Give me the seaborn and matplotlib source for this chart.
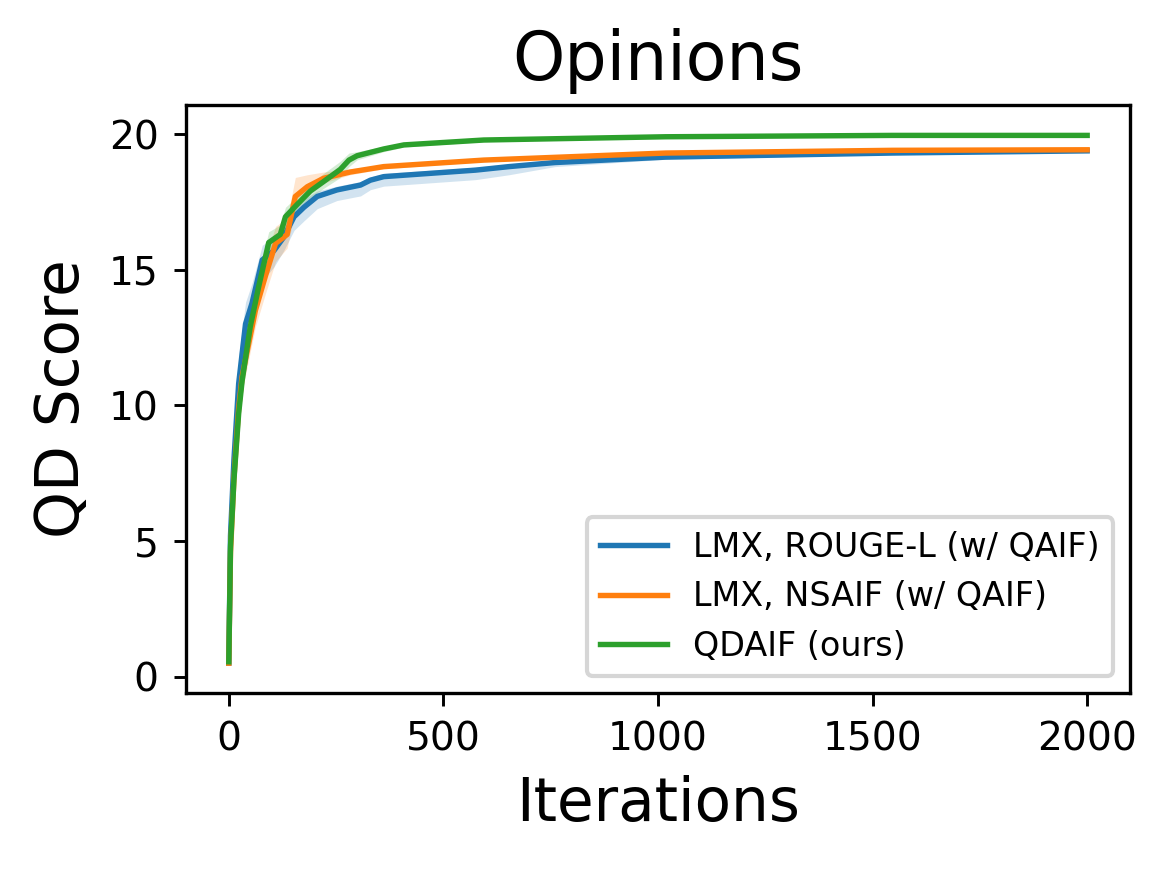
import matplotlib
matplotlib.use("Agg")
import matplotlib.pyplot as plt
import numpy as np
import pandas as pd
import seaborn as sns

# values
rouge_iter = [0, 4, 12, 23, 39, 54, 78, 105, 128, 152, 175, 206, 252, 307, 330, 361, 575, 653, 760, 1018, 1546, 2000]
rouge_mean = [0.5, 5.2, 8.0, 10.8, 13.0, 13.76, 15.36, 15.7, 16.2, 16.95, 17.3, 17.7, 17.94, 18.12, 18.3, 18.43, 18.67, 18.8, 18.95, 19.15, 19.3, 19.38]
rouge_lo = [0.5, 4.8, 7.2, 9.8, 12.0, 12.8, 14.6, 15.1, 15.7, 16.45, 16.8, 17.25, 17.55, 17.72, 17.95, 18.08, 18.32, 18.5, 18.8, 19.07, 19.25, 19.33]
rouge_hi = [0.5, 5.6, 8.8, 11.8, 13.8, 14.5, 15.9, 16.2, 16.6, 17.3, 17.6, 17.9, 18.08, 18.25, 18.42, 18.55, 18.78, 18.9, 19.02, 19.2, 19.34, 19.42]

nsaif_iter = [0, 4, 12, 23, 31, 62, 85, 109, 136, 155, 183, 221, 283, 361, 594, 1018, 1546, 2000]
nsaif_mean = [0.5, 4.6, 7.3, 9.9, 11.06, 13.5, 14.75, 15.97, 16.3, 17.7, 18.06, 18.37, 18.6, 18.8, 19.04, 19.3, 19.4, 19.42]
nsaif_lo = [0.5, 4.3, 6.8, 9.3, 10.5, 12.9, 14.1, 15.3, 15.8, 17.2, 17.75, 18.2, 18.5, 18.72, 18.98, 19.25, 19.36, 19.38]
nsaif_hi = [0.5, 4.9, 7.8, 10.5, 11.6, 14.1, 15.4, 16.6, 16.9, 18.4, 18.5, 18.6, 18.72, 18.88, 19.1, 19.35, 19.45, 19.46]

qdaif_iter = [0, 4, 12, 23, 31, 50, 70, 93, 120, 132, 159, 190, 221, 260, 280, 299, 361, 408, 594, 1018, 1546, 2000]
qdaif_mean = [0.55, 4.8, 7.25, 9.7, 10.9, 12.9, 14.4, 16.0, 16.3, 16.95, 17.4, 17.9, 18.25, 18.7, 19.04, 19.2, 19.45, 19.6, 19.78, 19.9, 19.95, 19.95]
qdaif_lo = [0.55, 4.5, 6.8, 9.2, 10.4, 12.4, 13.9, 15.6, 15.95, 16.6, 17.15, 17.65, 18.0, 18.4, 18.8, 19.05, 19.35, 19.52, 19.72, 19.85, 19.9, 19.9]
qdaif_hi = [0.55, 5.1, 7.7, 10.2, 11.4, 13.4, 14.9, 16.4, 16.65, 17.3, 17.7, 18.15, 18.55, 19.0, 19.3, 19.35, 19.55, 19.68, 19.84, 19.95, 20.0, 20.0]

labels = ["LMX, ROUGE-L (w/ QAIF)", "LMX, NSAIF (w/ QAIF)", "QDAIF (ours)"]

frames = []
for name, it, m, lo, hi in [(labels[0], rouge_iter, rouge_mean, rouge_lo, rouge_hi),
                            (labels[1], nsaif_iter, nsaif_mean, nsaif_lo, nsaif_hi),
                            (labels[2], qdaif_iter, qdaif_mean, qdaif_lo, qdaif_hi)]:
    frames.append(pd.DataFrame({"Iterations": it, "QD Score": m, "lo": lo, "hi": hi, "method": name}))
df = pd.concat(frames, ignore_index=True)

colors = ["#1f77b4", "#ff7f0e", "#2ca02c"]

fig = plt.figure(figsize=(1169 / 300, 870 / 300), dpi=300)
ax = fig.add_axes([0.159, 0.2034, 0.8077, 0.6759])

sns.lineplot(data=df, x="Iterations", y="QD Score", hue="method", hue_order=labels,
             palette=colors, linewidth=1.3, ax=ax, errorbar=None)

# shaded spread around each mean curve
for name, c in zip(labels, colors):
    d = df[df["method"] == name]
    ax.fill_between(d["Iterations"], d["lo"], d["hi"], color=c, alpha=0.2, linewidth=0)

ax.set_xlim(-100, 2100)
ax.set_ylim(-0.6, 21.07)
ax.set_xticks([0, 500, 1000, 1500, 2000])
ax.set_yticks([0, 5, 10, 15, 20])
ax.tick_params(labelsize=9.4, width=0.7, length=3)
for s in ax.spines.values():
    s.set_linewidth(0.8)

ax.set_title("Opinions", fontsize=16)
ax.set_xlabel("Iterations", fontsize=14.3)
ax.set_ylabel("QD Score", fontsize=14.3)
ax.legend(loc="lower right", fontsize=8.0, handlelength=2.0)

fig.savefig("out.png", dpi=300)
